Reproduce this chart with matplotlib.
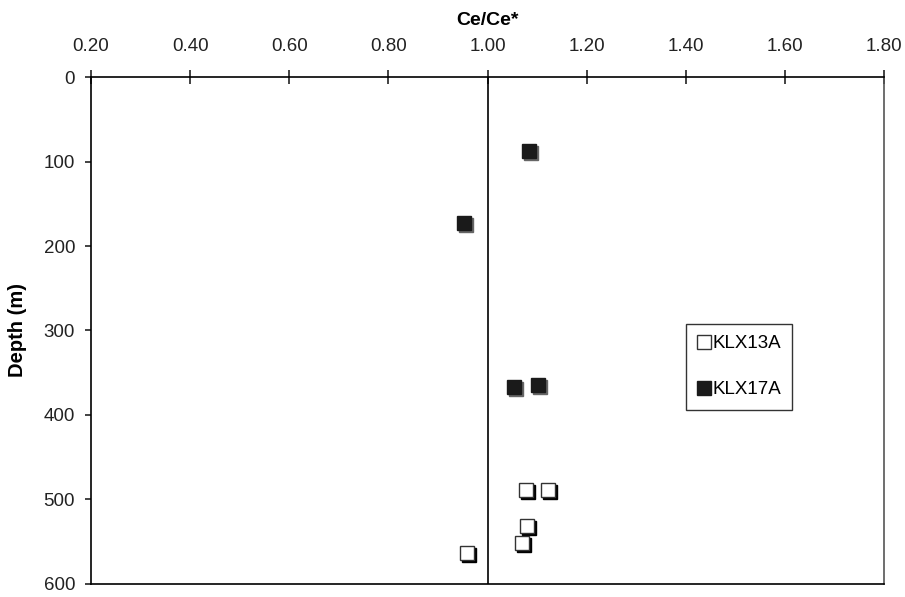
import matplotlib
matplotlib.use("Agg")
import matplotlib.pyplot as plt
from matplotlib.transforms import offset_copy

plt.rcParams['font.family'] = ['Liberation Sans', 'DejaVu Sans']

klx13a_ce = [1.078, 1.122, 1.080, 1.070, 0.959]
klx13a_depth = [489, 489, 531, 551, 563]
klx17a_ce = [1.084, 0.953, 1.054, 1.102]
klx17a_depth = [88, 173, 367, 365]

xticks = [0.20, 0.40, 0.60, 0.80, 1.00, 1.20, 1.40, 1.60, 1.80]
yticks = [0, 100, 200, 300, 400, 500, 600]

fig = plt.figure(figsize=(9.05, 5.97), dpi=100)
ax = fig.add_axes([0.1006, 0.0218, 0.8762, 0.8492])

ms = 9.5
shadow = offset_copy(ax.transData, fig=fig, x=2, y=-2, units='dots')
ax.plot(klx17a_ce, klx17a_depth, linestyle='none', marker='s', ms=ms,
        mfc='#666666', mec='#666666', transform=shadow, zorder=3)
ax.plot(klx13a_ce, klx13a_depth, linestyle='none', marker='s', ms=ms,
        mfc='black', mec='black', transform=shadow, zorder=3)
ax.plot(klx13a_ce, klx13a_depth, linestyle='none', marker='s', ms=ms,
        mfc='white', mec='#333333', mew=1.0, zorder=4, label='KLX13A')
ax.plot(klx17a_ce, klx17a_depth, linestyle='none', marker='s', ms=ms,
        mfc='#1a1a1a', mec='#1a1a1a', mew=1.0, zorder=4, label='KLX17A')

ax.axvline(1.0, color='black', lw=1.2, zorder=2)

ax.set_xlim(0.2, 1.8)
ax.set_ylim(600, 0)
ax.xaxis.tick_top()
ax.xaxis.set_label_position('top')
ax.set_xticks(xticks)
ax.set_xticklabels([f"{v:.2f}" for v in xticks])
ax.set_yticks(yticks)
ax.tick_params(axis='x', direction='inout', length=10, width=1.2, labelsize=13.5, pad=11)
ax.tick_params(axis='y', direction='out', length=4.5, width=1.2, labelsize=13.5, pad=7)
ax.tick_params(colors='#222222')
ax.set_xlabel('Ce/Ce*', fontsize=14, fontweight='bold', labelpad=9)
ax.set_ylabel('Depth (m)', fontsize=14.5, fontweight='bold', labelpad=12)
for s in ax.spines.values():
    s.set_linewidth(1.2)
ax.spines['right'].set_color('#555555')

leg = ax.legend(loc='upper left', bbox_to_anchor=(0.750, 0.513), frameon=True,
                fancybox=False, edgecolor='black', fontsize=13.5, handlelength=0.7,
                handletextpad=0.1, markerscale=1.0, labelspacing=1.55,
                borderpad=0.6, borderaxespad=0)
leg.get_frame().set_linewidth(1.0)

fig.savefig('out.png', dpi=100)
